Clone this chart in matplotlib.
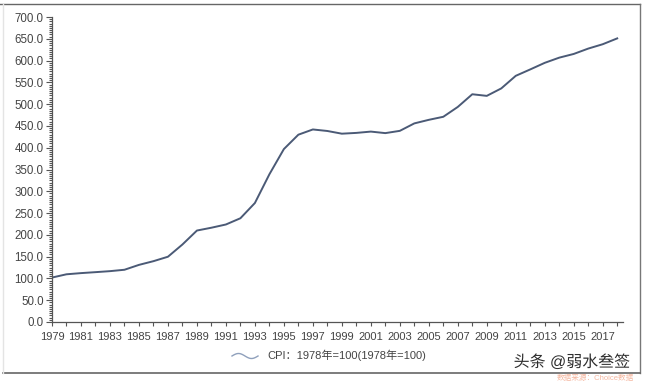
import numpy as np
import matplotlib
matplotlib.use("Agg")
import matplotlib.pyplot as plt
from matplotlib.ticker import MultipleLocator, FixedLocator, FormatStrFormatter
from matplotlib.lines import Line2D
import matplotlib.patheffects as pe

# ---------- 数据 ----------
years = list(range(1979, 2019))
cpi = [102.0, 109.5, 112.2, 114.4, 116.7, 119.9, 131.1, 139.6, 149.8, 177.9,
       209.9, 216.4, 223.8, 238.1, 273.1, 339.0, 396.9, 429.9, 441.9, 438.4,
       432.2, 434.0, 437.0, 433.5, 438.7, 455.8, 464.0, 471.0, 493.6, 522.7,
       519.0, 536.1, 565.0, 579.7, 594.8, 606.7, 615.2, 627.5, 637.5, 650.9]
label_years = list(range(1979, 2019, 2))
legend_label = "CPI：1978年=100(1978年=100)"
watermark = "头条 @弱水叁签"
source_note = "数据来源：Choice数据"

FONTS = ["Liberation Sans", "Noto Sans CJK SC", "DejaVu Sans"]
plt.rcParams["font.family"] = FONTS

W, H = 646, 383
fig = plt.figure(figsize=(W / 100, H / 100), dpi=100)
fig.patch.set_facecolor("white")

ax = fig.add_axes([52 / W, 1 - 322 / H, (623 - 52) / W, (322 - 17) / H])
ax.plot(years, cpi, color="#4b5a76", lw=1.4)

ax.set_xlim(1979, 2018.4)
ax.set_ylim(0, 700)
ax.xaxis.set_major_locator(FixedLocator(label_years))
ax.xaxis.set_minor_locator(FixedLocator(years))
ax.xaxis.set_major_formatter(FormatStrFormatter("%d"))
ax.yaxis.set_major_locator(MultipleLocator(50))
ax.yaxis.set_minor_locator(MultipleLocator(5))
ax.yaxis.set_major_formatter(FormatStrFormatter("%.1f"))

for s in ("top", "right"):
    ax.spines[s].set_visible(False)
for s in ("left", "bottom"):
    ax.spines[s].set_color("#555555")
    ax.spines[s].set_linewidth(0.9)

ax.tick_params(axis="both", which="both", direction="out", color="#555555",
               labelcolor="#444444", width=0.8)
ax.tick_params(axis="x", which="both", length=3, pad=4, labelsize=8)
ax.tick_params(axis="y", which="major", length=4, pad=2, labelsize=8.3)
ax.tick_params(axis="y", which="minor", length=2)

# ---------- 图例（波浪线 + 文字） ----------
wx = np.linspace(232, 258, 40)
wy = 356 - 2.5 * np.sin((wx - 232) / 26 * 2 * np.pi)
fig.add_artist(Line2D(wx / W, 1 - wy / H, color="#8fa0bc", lw=1.0,
                      transform=fig.transFigure))
fig.text(267 / W, 1 - 355 / H, legend_label, fontsize=8, color="#444444",
         ha="left", va="center")

# ---------- 外框 ----------
fig.add_artist(Line2D([0, 640 / W], [1 - 4 / H, 1 - 4 / H], color="#666666",
                      lw=1.0, transform=fig.transFigure))
fig.add_artist(Line2D([640 / W, 640 / W], [1 - 4 / H, 1 - 373 / H],
                      color="#777777", lw=1.0, transform=fig.transFigure))
fig.add_artist(Line2D([3 / W, 640 / W], [1 - 373 / H, 1 - 373 / H],
                      color="#666666", lw=1.2, transform=fig.transFigure))
fig.add_artist(Line2D([3 / W, 3 / W], [1 - 4 / H, 1 - 373 / H],
                      color="#e4e4e4", lw=1.0, transform=fig.transFigure))

# ---------- 水印 ----------
fig.text(572 / W, 1 - 362 / H, watermark, fontsize=11.5, color="#2e2e2e",
         ha="center", va="center",
         path_effects=[pe.withStroke(linewidth=2.5, foreground="white")])
fig.text(595 / W, 1 - 378 / H, source_note, fontsize=5.5, color="#f2a68a",
         ha="center", va="center", alpha=0.8)

fig.savefig("out.png", dpi=100, facecolor="white")
